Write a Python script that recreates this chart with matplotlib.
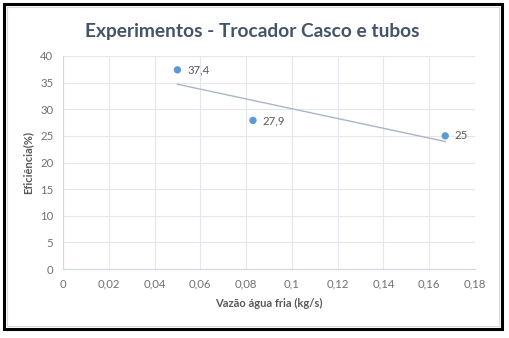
import numpy as np
import matplotlib
matplotlib.use("Agg")
import matplotlib.pyplot as plt
from matplotlib.patches import Rectangle

x_vals = [0.05, 0.083, 0.167]
y_vals = [37.4, 27.9, 25.0]
point_labels = ["37,4", "27,9", "25"]
x_ticks = [0, 0.02, 0.04, 0.06, 0.08, 0.1, 0.12, 0.14, 0.16, 0.18]
x_tick_labels = ["0", "0,02", "0,04", "0,06", "0,08", "0,1", "0,12", "0,14", "0,16", "0,18"]
y_ticks = [0, 5, 10, 15, 20, 25, 30, 35, 40]
title = "Experimentos - Trocador Casco e tubos"
xlabel = "Vazão água fria (kg/s)"
ylabel = "Eficiência(%)"

plt.rcParams['font.family'] = ['Lato', 'DejaVu Sans']

W, H = 509, 338
fig = plt.figure(figsize=(W/100, H/100), dpi=100)
fig.patch.set_facecolor("white")

# outer black frame
fig.patches.append(Rectangle((4/W, 1 - 329/H), 498/W, 325/H, transform=fig.transFigure,
                             fill=False, edgecolor="black", linewidth=2.2, zorder=0))
# inner light border
fig.patches.append(Rectangle((7/W, 1 - 326/H), 492/W, 319/H, transform=fig.transFigure,
                             fill=False, edgecolor="#D9D9D9", linewidth=0.8, zorder=0))

ax = fig.add_axes([63/W, 1 - 269/H, 412/W, 213/H])
ax.set_xlim(0, 0.18)
ax.set_ylim(0, 40)
ax.set_xticks(x_ticks)
ax.set_xticklabels(x_tick_labels)
ax.set_yticks(y_ticks)
ax.grid(True, color="#E4E8EE", linewidth=0.8)
ax.set_axisbelow(True)
for s in ["top", "right"]:
    ax.spines[s].set_visible(False)
for s in ["left", "bottom"]:
    ax.spines[s].set_color("#D0D8E4")
    ax.spines[s].set_linewidth(0.8)
ax.tick_params(length=0, labelsize=8.2, labelcolor="#707070", pad=7)

# trendline
coef = np.polyfit(x_vals, y_vals, 1)
xs = np.array([min(x_vals), max(x_vals)])
ax.plot(xs, np.polyval(coef, xs), color="#A9B6C8", linewidth=1.0, zorder=2)

ax.scatter(x_vals, y_vals, s=28, color="#5B9BD5", zorder=3, edgecolors="none")
for xv, yv, lab in zip(x_vals, y_vals, point_labels):
    ax.annotate(lab, (xv, yv), xytext=(7, 0), textcoords="offset points",
                va="center", ha="left", fontsize=8.2, color="#595959")

ax.set_xlabel(xlabel, fontsize=8, fontweight="bold", color="#595959", labelpad=6)
ax.set_ylabel(ylabel, fontsize=8, fontweight="bold", color="#595959", labelpad=5)

fig.text(252/W, 1 - 32/H, title, ha="center", va="center", fontsize=13.8,
         fontweight="bold", color="#44546A")

fig.savefig("out.png", dpi=100, facecolor="white")
